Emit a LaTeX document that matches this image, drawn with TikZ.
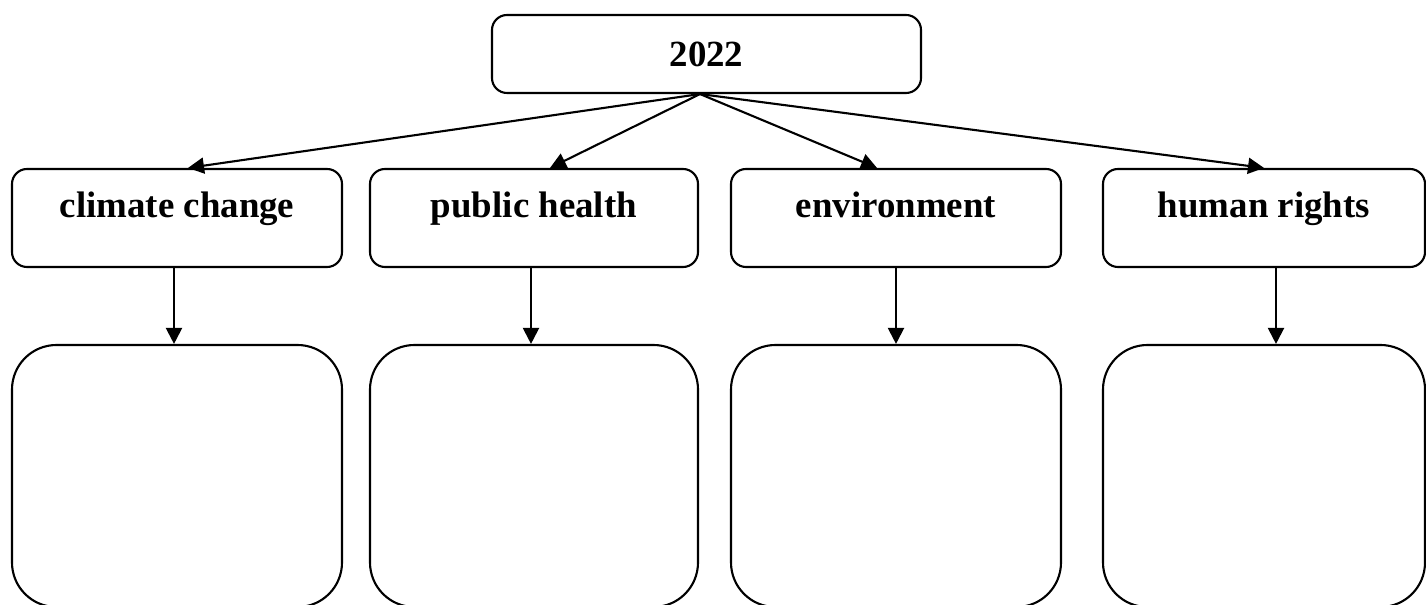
\documentclass[tikz,border=0pt]{standalone}
\usepackage{fontspec}
\setmainfont{Liberation Serif}
\usepackage{tikz}
\usetikzlibrary{arrows.meta, positioning}
\definecolor{mydark}{RGB}{0,0,0}
\tikzset{
  yearbox/.style={rectangle, draw=mydark, rounded corners=0.3cm,
    minimum width=8.58cm, minimum height=1.56cm,
    font=\fontsize{21}{25}\selectfont\bfseries, line width=1.2pt},
  topicbox/.style={rectangle, draw=mydark, rounded corners=0.3cm,
    minimum width=6.6cm, minimum height=1.96cm, text height=0.5cm, text depth=0.5cm,
    font=\fontsize{21}{25}\selectfont\bfseries, line width=1.2pt},
  notebox/.style={rectangle, draw=mydark, rounded corners=0.89cm,
    minimum width=6.6cm, minimum height=5.24cm, line width=1.2pt},
  arrow/.style={-{Triangle[length=0.32cm, width=0.32cm]}, line width=1.2pt, color=mydark}
}

\begin{document}
\begin{tikzpicture}
  \useasboundingbox (0,0) rectangle (28.52,12.1);
  \node[yearbox] (year) at (14.13,11.02) {2022};
  \node[topicbox] (climate) at (3.54,7.74) {climate change};
  \node[topicbox, minimum width=6.56cm] (health) at (10.68,7.74) {public health};
  \node[topicbox] (envir) at (17.92,7.74) {environment};
  \node[topicbox, minimum width=6.44cm] (rights) at (25.28,7.74) {human rights};
  \node[notebox] (climatenote) at (3.54,2.58) {};
  \node[notebox, minimum width=6.56cm] (healthnote) at (10.68,2.58) {};
  \node[notebox] (envirnote) at (17.92,2.58) {};
  \node[notebox, minimum width=6.44cm] (rightsnote) at (25.28,2.58) {};
  \coordinate (hub) at ([xshift=-0.13cm]year.south);
  \draw[arrow] (hub) -- ([xshift=0.22cm]climate.north);
  \draw[arrow] (hub) -- ([xshift=0.32cm]health.north);
  \draw[arrow] (hub) -- ([xshift=-0.38cm]envir.north);
  \draw[arrow] (hub) -- (rights.north);
  \draw[arrow] ([xshift=-0.06cm]climate.south) -- ([xshift=-0.06cm]climatenote.north);
  \draw[arrow] ([xshift=-0.06cm]health.south) -- ([xshift=-0.06cm]healthnote.north);
  \draw[arrow] (envir.south) -- (envirnote.north);
  \draw[arrow] ([xshift=0.24cm]rights.south) -- ([xshift=0.24cm]rightsnote.north);
\end{tikzpicture}
\end{document}
